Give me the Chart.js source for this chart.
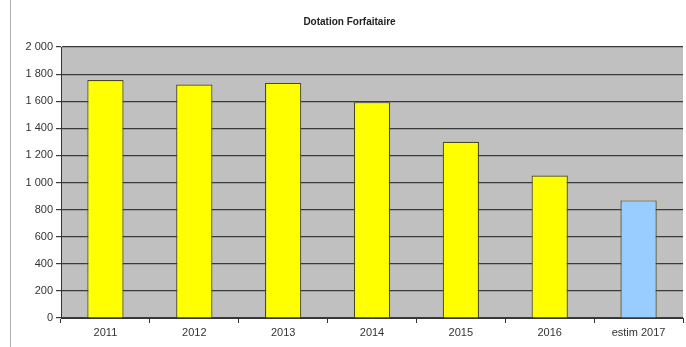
<!DOCTYPE html>
<html>
<head>
<meta charset="utf-8">
<script src="https://cdn.jsdelivr.net/npm/chart.js@4"></script>
<style>
  html, body { margin: 0; padding: 0; background: #fff; }
  #wrap { width: 686px; height: 347px; }
</style>
</head>
<body>
<div id="wrap"><canvas id="DotationChart" width="686" height="347"></canvas></div>
<script>
const years = ["2011", "2012", "2013", "2014", "2015", "2016", "estim 2017"];
const dotation = [1757, 1723, 1735, 1593, 1301, 1051, 868];
const barColors = ["#ffff00", "#ffff00", "#ffff00", "#ffff00", "#ffff00", "#ffff00", "#99ccff"];
const yTicks = [0, 200, 400, 600, 800, 1000, 1200, 1400, 1600, 1800, 2000];

const fmt = (v) => String(v).replace(/\B(?=(\d{3})+(?!\d))/g, " ");

// grey plot background + thin frame line on the left of the picture
const backdrop = {
  id: "backdrop",
  beforeDraw: (chart) => {
    const { ctx, chartArea: a } = chart;
    ctx.save();
    ctx.fillStyle = "#c0c0c0";
    ctx.fillRect(a.left, a.top, a.right - a.left, a.bottom - a.top);
    ctx.strokeStyle = "#b0b0b0";
    ctx.lineWidth = 1;
    ctx.beginPath();
    ctx.moveTo(10.5, 0);
    ctx.lineTo(10.5, chart.height);
    ctx.stroke();
    ctx.restore();
  },
};

const ctx = document.getElementById("DotationChart").getContext("2d");
new Chart(ctx, {
  type: "bar",
  data: {
    labels: years,
    datasets: [
      {
        label: "Dotation Forfaitaire",
        data: dotation,
        backgroundColor: barColors,
        borderColor: "#4a4a20",
        borderWidth: 1.2,
        barPercentage: 0.51,
        categoryPercentage: 0.8,
      },
    ],
  },
  options: {
    responsive: false,
    animation: false,
    layout: { padding: { left: 16, right: 3, top: 0, bottom: 0 } },
    plugins: {
      legend: { display: false },
      tooltip: { enabled: false },
      title: {
        display: true,
        text: "Dotation Forfaitaire",
        color: "#222",
        font: { family: "Liberation Sans", size: 10, weight: "bold" },
        padding: { top: 16, bottom: 19 },
      },
    },
    scales: {
      x: {
        grid: {
          drawOnChartArea: false,
          drawTicks: true,
          tickLength: 5,
          color: "#333",
          offset: true,
        },
        border: { color: "#333", width: 1 },
        ticks: {
          color: "#333",
          padding: 3,
          maxRotation: 0,
          font: { family: "Liberation Sans", size: 11 },
        },
        afterFit: (scale) => { scale.height = 29; },
      },
      y: {
        min: 0,
        max: 2000,
        afterBuildTicks: (scale) => { scale.ticks = yTicks.map((v) => ({ value: v })); },
        grid: { color: "#3a3a3a", lineWidth: 1.2, tickLength: 5 },
        border: { color: "#333", width: 1 },
        ticks: {
          color: "#333",
          padding: 3,
          font: { family: "Liberation Sans", size: 11 },
          callback: (v) => fmt(v),
        },
        afterFit: (scale) => { scale.width = 45; },
      },
    },
  },
  plugins: [backdrop],
});
</script>
</body>
</html>
